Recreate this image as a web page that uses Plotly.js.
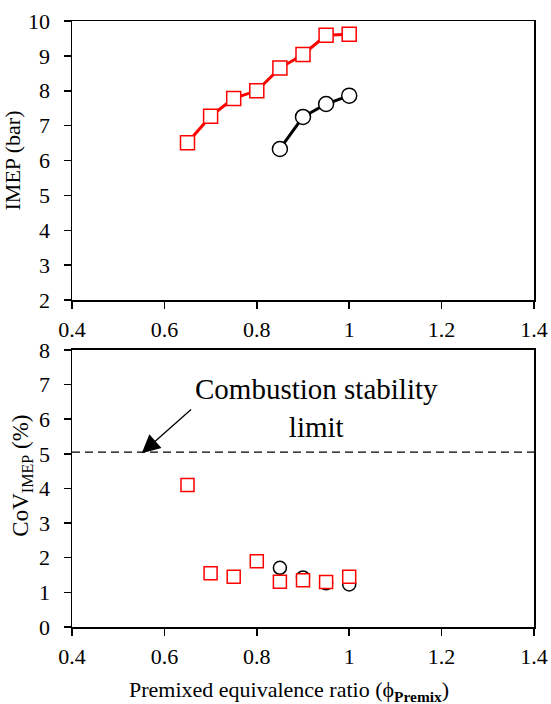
<!DOCTYPE html>
<html>
<head>
<meta charset="utf-8">
<script src="https://cdn.plot.ly/plotly-3.0.1.min.js"></script>
<style>html,body{margin:0;padding:0;background:#fff;}#chart{width:551px;height:704px;}</style>
</head>
<body>
<div id="chart"></div>
<script>
// Data
const phiPremixRed = [0.65, 0.70, 0.75, 0.80, 0.85, 0.90, 0.95, 1.00];
const imepRed      = [6.51, 7.27, 7.78, 8.00, 8.65, 9.04, 9.59, 9.62];
const phiBlack     = [0.85, 0.90, 0.95, 1.00];
const imepBlack    = [6.33, 7.25, 7.62, 7.86];
const covRed       = [4.10, 1.55, 1.45, 1.90, 1.31, 1.35, 1.30, 1.45];
const covBlack     = [1.71, 1.43, 1.26, 1.23];
const stabilityLimit = 5.05;
const xTicks = [0.4, 0.6, 0.8, 1.0, 1.2, 1.4];
const xTickText = ['0.4', '0.6', '0.8', '1', '1.2', '1.4'];
const yTopTicks = [2, 3, 4, 5, 6, 7, 8, 9, 10];
const yBotTicks = [0, 1, 2, 3, 4, 5, 6, 7, 8];

const FONT = 'Liberation Serif';
const RED = '#ff0000';
const TFS = 22;

const traces = [
  {x: phiPremixRed, y: imepRed, xaxis: 'x', yaxis: 'y', mode: 'lines+markers',
   line: {color: RED, width: 3},
   marker: {symbol: 'square', size: 14, color: '#fff', line: {color: RED, width: 1.5}}},
  {x: phiBlack, y: imepBlack, xaxis: 'x', yaxis: 'y', mode: 'lines+markers',
   line: {color: '#000', width: 3},
   marker: {symbol: 'circle', size: 15, color: '#fff', line: {color: '#000', width: 1.5}}},
  {x: phiBlack, y: covBlack, xaxis: 'x2', yaxis: 'y2', mode: 'markers',
   marker: {symbol: 'circle', size: 13, color: '#fff', line: {color: '#000', width: 1.5}}},
  {x: phiPremixRed, y: covRed, xaxis: 'x2', yaxis: 'y2', mode: 'markers',
   marker: {symbol: 'square', size: 13, color: '#fff', line: {color: RED, width: 1.5}}}
];

const axisCommon = {
  showline: true, linecolor: '#000', linewidth: 1.5, mirror: true,
  ticks: 'outside', ticklen: 7, tickwidth: 1.5, tickcolor: '#000',
  showgrid: false, zeroline: false,
  tickfont: {family: FONT, size: TFS, color: '#000'}
};

const layout = {
  width: 551, height: 704,
  margin: {l: 72, r: 17, t: 21, b: 77},
  paper_bgcolor: '#fff', plot_bgcolor: '#fff',
  showlegend: false,
  font: {family: FONT, color: '#000'},
  xaxis: Object.assign({}, axisCommon, {range: [0.4, 1.4], tickvals: xTicks, ticktext: xTickText, anchor: 'y', ticklabelstandoff: 2}),
  yaxis: Object.assign({}, axisCommon, {range: [2, 10], tickvals: yTopTicks, domain: [0.5396, 1], anchor: 'x',
    ticklabelstandoff: 9,
    title: {text: 'IMEP (bar)', font: {family: FONT, size: TFS, color: '#000'}, standoff: 4}}),
  xaxis2: Object.assign({}, axisCommon, {range: [0.4, 1.4], tickvals: xTicks, ticktext: xTickText, anchor: 'y2', ticklabelstandoff: 2}),
  yaxis2: Object.assign({}, axisCommon, {range: [0, 8], tickvals: yBotTicks, domain: [0, 0.4571], anchor: 'x2',
    ticklabelstandoff: 9}),
  shapes: [
    {type: 'line', xref: 'x2', yref: 'y2', x0: 0.4, x1: 1.4, y0: stabilityLimit, y1: stabilityLimit,
     line: {color: '#000', width: 1.3, dash: '8px,5px'}}
  ],
  annotations: [
    {xref: 'x2', yref: 'y2', x: 0.551, y: 5.02, axref: 'x2', ayref: 'y2', ax: 0.661, ay: 6.32,
     text: '', showarrow: true, arrowhead: 2, arrowsize: 2.8, arrowwidth: 1.3, arrowcolor: '#000'},
    {xref: 'x2', yref: 'y2', x: 0.930, y: 6.33, text: 'Combustion stability<br>limit', showarrow: false,
     xanchor: 'center', yanchor: 'middle', align: 'center',
     font: {family: FONT, size: 29, color: '#000'}},
    {xref: 'paper', yref: 'paper', x: 0.469, y: -0.1056, xanchor: 'center', yanchor: 'middle', showarrow: false,
     text: 'Premixed equivalence ratio (ϕ<sub><b>Premix</b></sub>)',
     font: {family: FONT, size: TFS, color: '#000'}},
    {xref: 'paper', yref: 'paper', x: -0.110, y: 0.250, xanchor: 'center', yanchor: 'middle', showarrow: false,
     textangle: -90, text: 'CoV<sub>IMEP</sub> (%)',
     font: {family: FONT, size: 23, color: '#000'}}
  ]
};

Plotly.newPlot('chart', traces, layout, {displayModeBar: false, staticPlot: true});
</script>
</body>
</html>
